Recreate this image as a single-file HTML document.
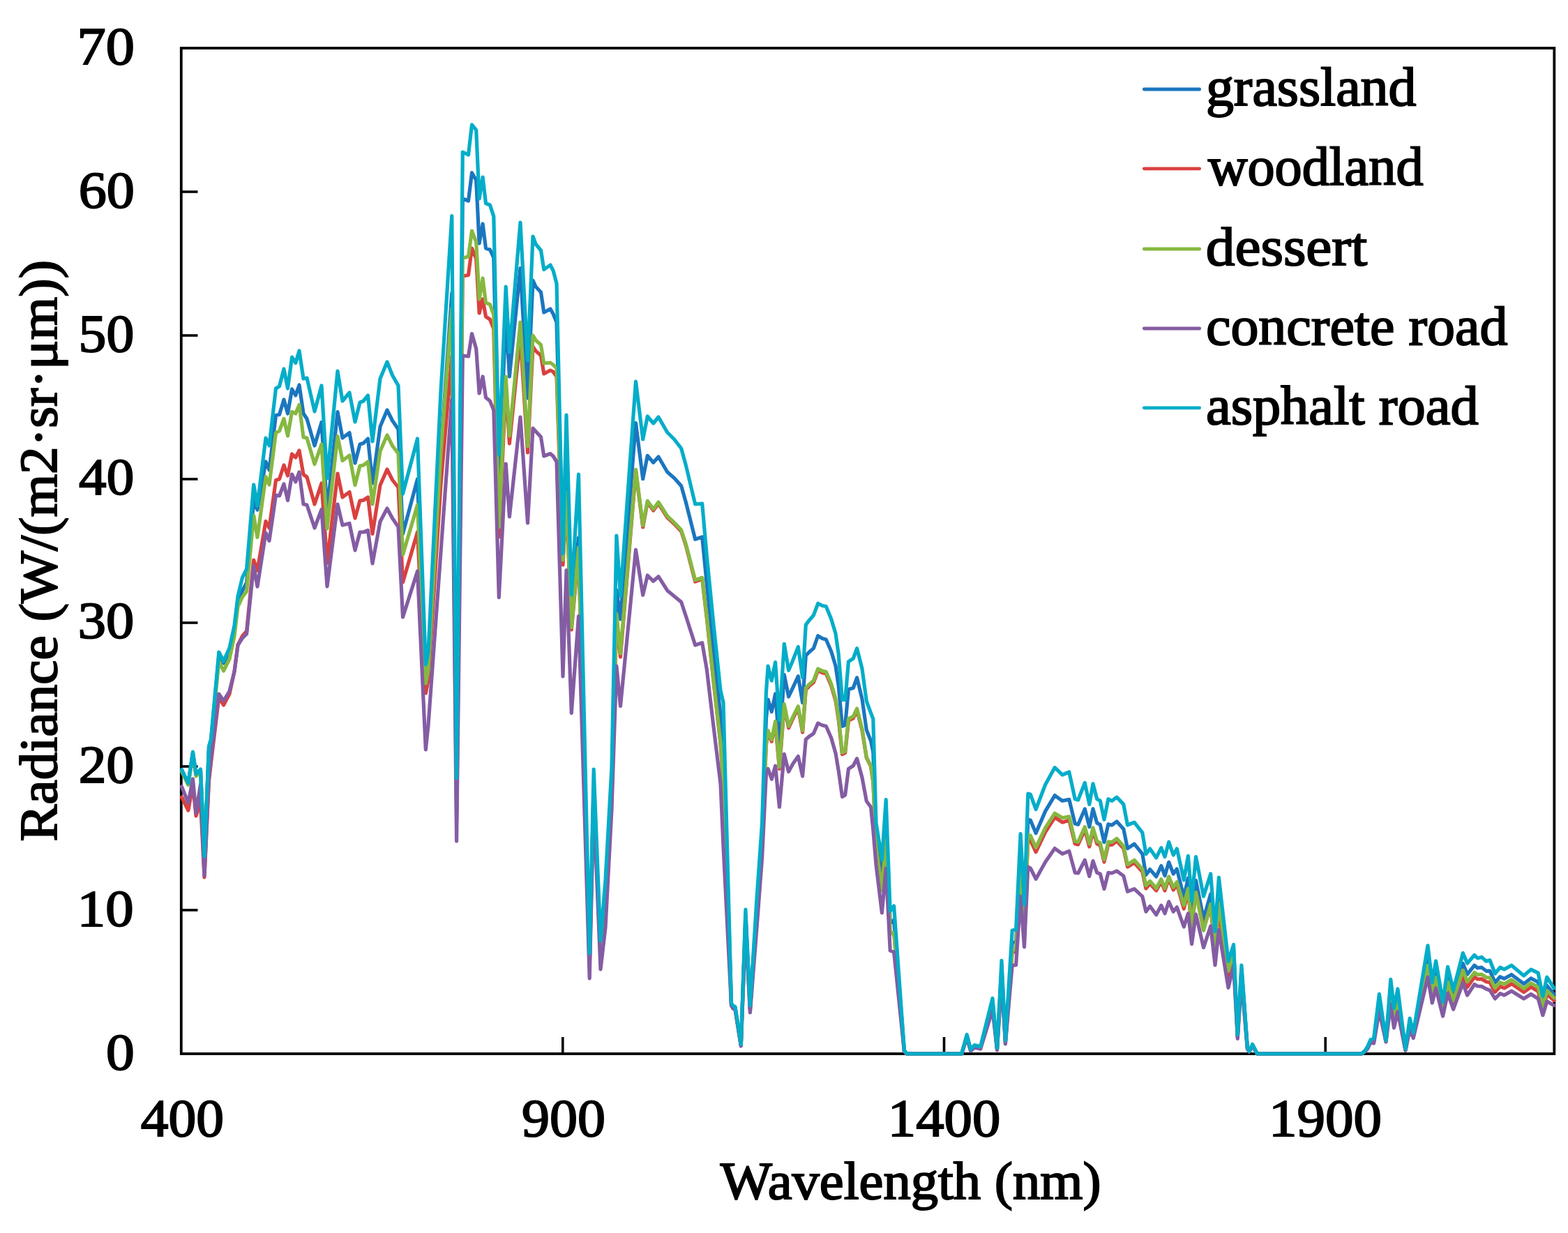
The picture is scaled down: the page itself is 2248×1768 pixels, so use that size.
<!DOCTYPE html>
<html><head><meta charset="utf-8"><title>Radiance spectra</title>
<style>html,body{margin:0;padding:0;background:#fff;overflow:hidden}svg{display:block}</style>
</head><body>
<svg width="2248" height="1768" viewBox="0 0 2248 1768"><rect x="0" y="0" width="2248" height="1768" fill="#fff"/>
<rect x="259.8" y="69.0" width="1968.5000000000002" height="1442.0" fill="none" stroke="#000" stroke-width="3.8"/>
<line x1="259.8" y1="1305.0" x2="283.5" y2="1305.0" stroke="#000" stroke-width="3.6"/>
<line x1="259.8" y1="1099.0" x2="283.5" y2="1099.0" stroke="#000" stroke-width="3.6"/>
<line x1="259.8" y1="893.0" x2="283.5" y2="893.0" stroke="#000" stroke-width="3.6"/>
<line x1="259.8" y1="687.0" x2="283.5" y2="687.0" stroke="#000" stroke-width="3.6"/>
<line x1="259.8" y1="481.0" x2="283.5" y2="481.0" stroke="#000" stroke-width="3.6"/>
<line x1="259.8" y1="275.0" x2="283.5" y2="275.0" stroke="#000" stroke-width="3.6"/>
<line x1="806.8" y1="1511.0" x2="806.8" y2="1487" stroke="#000" stroke-width="3.6"/>
<line x1="1353.5" y1="1511.0" x2="1353.5" y2="1487" stroke="#000" stroke-width="3.6"/>
<line x1="1900.2" y1="1511.0" x2="1900.2" y2="1487" stroke="#000" stroke-width="3.6"/>
<polyline points="260.5,1104.5 269.9,1124.0 276.5,1079.0 281.0,1111.0 287.5,1104.0 293.0,1230.0 299.5,1071.0 302.5,1061.0 313.8,940.0 320.5,951.0 329.0,935.0 336.0,902.4 341.0,860.0 347.5,847.0 353.6,835.6 363.7,718.0 369.0,731.0 381.0,662.0 386.0,674.0 395.5,595.5 400.5,594.5 407.0,573.0 412.5,593.0 418.6,558.0 423.8,567.0 429.0,552.0 435.0,593.0 440.0,600.5 451.0,639.0 461.0,605.5 469.0,732.4 484.0,590.5 491.0,628.0 501.0,620.5 509.0,664.0 516.0,637.0 521.0,635.5 527.5,629.0 534.0,693.0 545.0,611.8 555.0,588.0 562.5,603.0 571.0,615.5 577.5,765.5 598.5,687.0 610.3,993.6 614.0,970.8 632.0,648.5 647.8,420.0 654.6,1145.9 663.3,285.0 671.5,288.0 676.5,247.7 682.7,258.3 687.1,349.0 692.1,321.0 696.5,356.0 702.5,358.0 707.8,369.4 715.3,691.1 725.2,452.4 730.4,540.0 746.0,384.5 756.5,571.0 764.0,402.0 768.0,411.0 775.5,419.0 779.8,448.0 789.0,443.0 793.0,450.0 798.0,462.0 807.0,797.0 812.0,650.0 819.3,860.0 829.5,771.0 845.2,1382.8 851.2,1123.5 861.0,1366.6 868.0,1291.0 877.0,1125.3 883.9,846.0 889.5,888.0 911.5,606.7 921.7,686.7 928.3,653.3 936.7,663.3 944.0,655.0 956.7,676.7 966.7,685.6 976.7,696.7 983.3,720.0 996.7,773.3 1006.7,770.0 1013.3,837.2 1023.0,932.5 1033.0,1025.4 1037.0,1062.4 1048.5,1439.1 1050.8,1443.1 1054.0,1444.8 1062.3,1498.4 1068.9,1311.7 1075.4,1445.0 1085.0,1301.1 1092.6,1195.9 1098.4,1030.8 1101.1,1003.0 1106.3,1020.5 1111.6,994.9 1117.4,1069.4 1124.3,967.5 1130.6,999.0 1136.9,985.6 1144.3,969.6 1150.6,1007.6 1155.3,940.0 1160.1,935.0 1166.4,929.6 1172.7,911.7 1179.0,915.4 1184.3,917.0 1191.7,934.0 1198.0,954.9 1202.2,983.3 1207.5,1041.3 1211.7,1039.8 1216.5,988.6 1223.3,986.5 1228.6,971.7 1236.0,1002.3 1242.3,1046.7 1248.5,1062.4 1251.8,1078.2 1256.0,1197.9 1264.4,1255.7 1270.2,1176.4 1276.2,1323.7 1281.6,1319.2 1296.4,1506.4 1300.0,1511.0 1378.7,1511.0 1386.2,1484.9 1391.6,1505.7 1397.0,1499.7 1405.7,1501.8 1423.0,1437.1 1429.5,1504.0 1436.0,1386.8 1441.4,1493.7 1451.2,1351.3 1456.6,1350.7 1463.1,1226.8 1468.5,1318.5 1473.8,1175.0 1477.4,1176.2 1485.1,1194.7 1498.7,1163.1 1512.2,1140.6 1523.1,1148.3 1532.8,1146.4 1541.2,1181.1 1545.7,1182.3 1555.3,1159.9 1561.8,1185.7 1567.0,1159.9 1572.7,1180.1 1577.3,1182.4 1583.0,1207.6 1588.9,1181.8 1594.0,1183.2 1601.1,1178.0 1610.8,1188.7 1616.5,1216.6 1626.2,1210.1 1637.8,1224.3 1642.9,1254.4 1648.7,1246.6 1657.7,1257.0 1664.8,1241.5 1670.0,1255.7 1675.7,1236.3 1682.2,1253.0 1687.3,1246.0 1697.3,1286.8 1703.4,1259.1 1708.6,1316.3 1714.5,1262.6 1725.5,1317.5 1735.7,1281.9 1742.0,1352.6 1747.4,1282.7 1761.0,1388.0 1768.6,1362.3 1774.3,1485.1 1779.9,1389.5 1788.3,1501.4 1791.0,1507.6 1795.6,1498.0 1802.4,1511.0 1952.0,1511.0 1956.9,1507.0 1960.5,1501.9 1965.0,1492.0 1969.6,1491.2 1977.4,1433.0 1987.0,1492.6 1993.8,1415.6 1998.5,1454.5 2003.9,1428.5 2015.0,1505.1 2021.2,1465.3 2026.2,1483.6 2047.0,1370.8 2053.3,1418.3 2058.6,1391.1 2068.6,1443.8 2075.6,1399.3 2083.6,1429.1 2097.3,1381.5 2103.6,1397.2 2113.9,1384.2 2118.3,1388.0 2124.2,1387.2 2130.8,1392.3 2136.0,1392.1 2143.4,1408.8 2150.7,1400.6 2156.6,1403.3 2167.0,1397.5 2184.6,1410.7 2194.9,1402.7 2205.2,1408.2 2211.9,1438.1 2217.8,1413.4 2228.0,1425.8" fill="none" stroke="#1b76bf" stroke-width="5.2" stroke-linejoin="round" stroke-linecap="round"/>
<polyline points="260.5,1143.0 269.9,1162.0 276.5,1125.0 281.0,1170.0 287.5,1150.0 293.0,1258.0 299.5,1120.0 302.5,1094.0 313.8,1000.0 320.5,1011.0 329.0,995.0 336.0,963.0 341.0,925.0 347.5,912.0 353.6,905.0 363.7,803.0 369.0,818.0 381.0,747.5 386.0,757.0 395.5,688.5 400.5,687.0 407.0,667.0 412.5,682.0 418.6,651.0 423.8,656.0 429.0,646.0 435.0,680.5 440.0,684.0 451.0,723.0 461.0,693.0 469.0,807.2 484.0,679.0 491.0,713.0 501.0,705.5 509.0,743.0 516.0,718.0 521.0,717.2 527.5,713.0 534.0,765.5 545.0,695.7 555.0,673.0 562.5,688.0 571.0,699.0 577.5,835.0 598.5,763.0 610.3,994.0 614.0,974.7 632.0,694.6 647.8,510.0 654.6,1178.4 663.3,396.0 671.5,394.5 676.5,356.0 682.7,371.1 687.1,449.0 692.1,429.0 696.5,454.0 702.5,458.0 707.8,471.6 715.3,770.0 725.2,553.9 730.4,636.0 746.0,482.0 756.5,649.0 764.0,497.0 768.0,503.1 775.5,509.7 779.8,536.0 789.0,531.0 793.0,533.0 798.0,540.0 807.0,810.0 812.0,717.0 819.3,903.0 829.5,790.0 845.2,1387.6 851.2,1130.5 861.0,1373.8 868.0,1304.1 877.0,1138.3 883.9,890.0 889.5,942.0 911.5,675.0 921.7,756.0 928.3,720.0 936.7,732.0 944.0,722.0 956.7,742.0 966.7,751.3 976.7,762.0 983.3,782.0 996.7,834.0 1006.7,830.0 1013.3,886.3 1023.0,977.1 1033.0,1066.3 1037.0,1125.8 1048.5,1440.3 1050.8,1444.4 1054.0,1446.2 1062.3,1499.1 1068.9,1319.8 1075.4,1448.2 1085.0,1314.3 1092.6,1211.8 1098.4,1068.1 1101.1,1050.0 1106.3,1063.2 1111.6,1037.2 1117.4,1102.5 1124.3,1012.2 1130.6,1043.8 1136.9,1030.2 1144.3,1015.3 1150.6,1050.1 1155.3,989.0 1160.1,983.9 1166.4,978.5 1172.7,961.5 1179.0,964.6 1184.3,965.8 1191.7,983.2 1198.0,1004.9 1202.2,1031.9 1207.5,1081.7 1211.7,1079.5 1216.5,1033.2 1223.3,1029.9 1228.6,1018.5 1236.0,1047.0 1242.3,1086.6 1248.5,1098.9 1251.8,1121.3 1256.0,1214.2 1264.4,1276.4 1270.2,1203.1 1276.2,1339.0 1281.6,1337.1 1296.4,1507.0 1300.0,1511.0 1378.7,1511.0 1386.2,1486.2 1391.6,1506.2 1397.0,1500.7 1405.7,1502.7 1423.0,1441.6 1429.5,1504.8 1436.0,1394.4 1441.4,1495.1 1451.2,1365.1 1456.6,1364.7 1463.1,1251.5 1468.5,1335.2 1473.8,1204.0 1477.4,1205.2 1485.1,1221.7 1498.7,1193.2 1512.2,1172.0 1523.1,1179.2 1532.8,1176.0 1541.2,1210.0 1545.7,1210.9 1555.3,1190.0 1561.8,1214.0 1567.0,1191.0 1572.7,1210.0 1577.3,1212.1 1583.0,1236.0 1588.9,1211.0 1594.0,1211.4 1601.1,1206.0 1610.8,1216.6 1616.5,1243.0 1626.2,1237.0 1637.8,1250.0 1642.9,1274.0 1648.7,1267.0 1657.7,1277.0 1664.8,1264.0 1670.0,1277.0 1675.7,1260.0 1682.2,1276.0 1687.3,1268.0 1697.3,1303.0 1703.4,1278.0 1708.6,1329.8 1714.5,1279.5 1725.5,1330.9 1735.7,1299.7 1742.0,1365.9 1747.4,1305.5 1761.0,1402.4 1768.6,1373.9 1774.3,1487.3 1779.9,1397.4 1788.3,1502.7 1791.0,1507.8 1795.6,1499.0 1802.4,1511.0 1952.0,1511.0 1956.9,1507.5 1960.5,1503.1 1965.0,1493.7 1969.6,1493.9 1977.4,1442.5 1987.0,1493.4 1993.8,1429.7 1998.5,1465.7 2003.9,1441.4 2015.0,1505.9 2021.2,1471.6 2026.2,1486.5 2047.0,1388.9 2053.3,1430.1 2058.6,1406.6 2068.6,1451.7 2075.6,1414.4 2083.6,1440.1 2097.3,1398.7 2103.6,1415.5 2113.9,1401.1 2118.3,1404.0 2124.2,1403.7 2130.8,1407.8 2136.0,1408.7 2143.4,1422.4 2150.7,1414.5 2156.6,1416.9 2167.0,1410.7 2184.6,1422.5 2194.9,1415.3 2205.2,1421.4 2211.9,1447.8 2217.8,1425.8 2228.0,1434.6" fill="none" stroke="#d9413f" stroke-width="5.2" stroke-linejoin="round" stroke-linecap="round"/>
<polyline points="260.5,1106.0 269.9,1125.5 276.5,1081.0 281.0,1113.0 287.5,1106.0 293.0,1234.0 299.5,1074.0 302.5,1064.0 313.8,948.0 320.5,962.0 329.0,945.0 336.0,912.3 341.0,870.0 347.5,856.0 353.6,847.9 363.7,739.0 369.0,770.5 381.0,683.6 386.0,695.0 395.5,620.5 400.5,618.0 407.0,600.5 412.5,625.0 418.6,590.5 423.8,593.0 429.0,580.5 435.0,627.0 440.0,628.0 451.0,665.5 461.0,637.0 469.0,758.0 484.0,625.5 491.0,660.5 501.0,653.0 509.0,695.5 516.0,668.0 521.0,667.1 527.5,662.0 534.0,723.0 545.0,646.9 555.0,624.0 562.5,639.0 571.0,650.5 577.5,795.5 598.5,724.0 610.3,980.0 614.0,961.2 632.0,648.9 647.8,442.0 654.6,1161.7 663.3,370.0 671.5,368.0 676.5,331.0 682.7,347.1 687.1,429.0 692.1,399.0 696.5,434.0 702.5,436.6 707.8,451.4 715.3,756.0 725.2,540.1 730.4,625.0 746.0,462.0 756.5,640.0 764.0,481.0 768.0,487.7 775.5,494.5 779.8,521.0 789.0,520.0 793.0,523.0 798.0,528.0 807.0,803.0 812.0,706.0 819.3,900.0 829.5,785.0 845.2,1386.4 851.2,1128.8 861.0,1372.1 868.0,1301.1 877.0,1135.3 883.9,880.0 889.5,937.0 911.5,673.3 921.7,753.3 928.3,718.3 936.7,730.0 944.0,720.0 956.7,740.0 966.7,749.3 976.7,760.0 983.3,780.0 996.7,831.7 1006.7,828.3 1013.3,884.9 1023.0,975.7 1033.0,1064.9 1037.0,1123.6 1048.5,1440.3 1050.8,1444.3 1054.0,1446.2 1062.3,1499.1 1068.9,1319.5 1075.4,1448.0 1085.0,1313.7 1092.6,1211.0 1098.4,1066.2 1101.1,1047.6 1106.3,1060.7 1111.6,1034.5 1117.4,1100.0 1124.3,1009.7 1130.6,1041.3 1136.9,1027.7 1144.3,1012.8 1150.6,1047.6 1155.3,986.5 1160.1,981.4 1166.4,976.0 1172.7,959.0 1179.0,962.1 1184.3,963.3 1191.7,980.5 1198.0,1002.0 1202.2,1029.0 1207.5,1079.2 1211.7,1077.1 1216.5,1030.7 1223.3,1027.4 1228.6,1016.0 1236.0,1045.3 1242.3,1085.7 1248.5,1098.5 1251.8,1121.2 1256.0,1214.3 1264.4,1277.0 1270.2,1203.7 1276.2,1339.2 1281.6,1337.2 1296.4,1507.0 1300.0,1511.0 1378.7,1511.0 1386.2,1486.0 1391.6,1506.1 1397.0,1500.5 1405.7,1502.6 1423.0,1440.8 1429.5,1504.7 1436.0,1393.0 1441.4,1494.8 1451.2,1362.2 1456.6,1361.6 1463.1,1245.9 1468.5,1331.3 1473.8,1197.0 1477.4,1198.2 1485.1,1215.3 1498.7,1186.9 1512.2,1166.3 1523.1,1172.8 1532.8,1170.8 1541.2,1206.3 1545.7,1207.1 1555.3,1185.7 1561.8,1210.1 1567.0,1187.0 1572.7,1206.3 1577.3,1208.5 1583.0,1232.7 1588.9,1207.0 1594.0,1207.6 1601.1,1202.4 1610.8,1213.2 1616.5,1239.8 1626.2,1233.3 1637.8,1246.2 1642.9,1269.8 1648.7,1263.4 1657.7,1273.7 1664.8,1260.8 1670.0,1273.7 1675.7,1257.0 1682.2,1272.4 1687.3,1264.7 1697.3,1298.2 1703.4,1274.1 1708.6,1328.3 1714.5,1279.5 1725.5,1334.3 1735.7,1296.6 1742.0,1361.2 1747.4,1294.6 1761.0,1392.4 1768.6,1366.0 1774.3,1485.8 1779.9,1392.2 1788.3,1501.9 1791.0,1507.7 1795.6,1498.4 1802.4,1511.0 1952.0,1511.0 1956.9,1507.3 1960.5,1502.7 1965.0,1493.1 1969.6,1492.9 1977.4,1439.1 1987.0,1493.1 1993.8,1425.0 1998.5,1462.1 2003.9,1437.3 2015.0,1505.7 2021.2,1469.8 2026.2,1485.7 2047.0,1384.3 2053.3,1426.7 2058.6,1401.6 2068.6,1448.7 2075.6,1408.0 2083.6,1434.9 2097.3,1391.2 2103.6,1407.8 2113.9,1394.5 2118.3,1397.7 2124.2,1397.1 2130.8,1401.5 2136.0,1401.9 2143.4,1416.7 2150.7,1408.6 2156.6,1411.0 2167.0,1404.8 2184.6,1417.3 2194.9,1409.7 2205.2,1415.6 2211.9,1443.5 2217.8,1420.3 2228.0,1430.7" fill="none" stroke="#86b841" stroke-width="5.2" stroke-linejoin="round" stroke-linecap="round"/>
<polyline points="260.5,1128.0 269.9,1151.0 276.5,1117.0 281.0,1166.0 287.5,1125.0 293.0,1256.0 299.5,1115.0 302.5,1089.0 313.8,995.0 320.5,1005.0 329.0,991.0 336.0,963.0 341.0,925.0 347.5,915.0 353.6,909.0 363.7,811.5 369.0,841.0 381.0,764.0 386.0,775.4 395.5,710.0 400.5,711.0 407.0,694.0 412.5,717.5 418.6,680.0 423.8,691.0 429.0,677.0 435.0,723.0 440.0,724.0 451.0,757.0 461.0,730.5 469.0,841.0 484.0,723.0 491.0,753.0 501.0,750.5 509.0,789.0 516.0,763.0 521.0,763.0 527.5,760.5 534.0,808.0 545.0,748.0 555.0,729.0 562.5,743.0 571.0,755.5 577.5,885.0 598.5,819.0 610.3,1075.0 614.0,1040.0 632.0,791.3 647.8,573.0 654.6,1206.0 663.3,510.0 671.5,511.0 676.5,478.5 682.7,500.0 687.1,564.0 692.1,540.0 696.5,570.0 702.5,575.0 707.8,588.0 715.3,856.6 725.2,665.0 730.4,741.0 746.0,598.0 756.5,750.0 764.0,614.0 768.0,618.4 775.5,626.6 779.8,654.0 789.0,650.5 793.0,654.0 798.0,662.0 807.0,970.0 812.0,817.6 819.3,1022.5 829.5,883.5 845.2,1403.0 851.2,1150.0 861.0,1390.0 868.0,1330.0 877.0,1160.0 883.9,955.0 889.5,1012.4 911.5,788.3 921.7,853.3 928.3,825.0 936.7,833.3 944.0,826.7 956.7,846.7 966.7,855.0 976.7,863.3 983.3,883.3 996.7,925.0 1006.7,921.7 1013.3,960.0 1023.0,1042.0 1033.0,1124.0 1037.0,1214.0 1048.5,1442.0 1050.8,1446.0 1054.0,1448.0 1062.3,1500.0 1068.9,1330.0 1075.4,1452.0 1085.0,1330.0 1092.6,1230.0 1098.4,1110.0 1101.1,1102.4 1106.3,1117.2 1111.6,1098.2 1117.4,1157.2 1124.3,1081.3 1130.6,1106.6 1136.9,1095.0 1144.3,1084.5 1150.6,1113.0 1155.3,1060.3 1160.1,1056.0 1166.4,1051.8 1172.7,1037.0 1179.0,1040.0 1184.3,1041.3 1191.7,1058.0 1198.0,1080.0 1202.2,1105.0 1207.5,1142.5 1211.7,1140.0 1216.5,1102.4 1223.3,1098.0 1228.6,1087.7 1236.0,1115.0 1242.3,1148.8 1248.5,1157.2 1251.8,1190.0 1256.0,1240.0 1264.4,1309.0 1270.2,1245.0 1276.2,1363.0 1281.6,1365.0 1296.4,1508.0 1300.0,1511.0 1378.7,1511.0 1386.2,1488.0 1391.6,1507.0 1397.0,1502.0 1405.7,1504.0 1423.0,1448.0 1429.5,1506.0 1436.0,1405.0 1441.4,1497.0 1451.2,1384.0 1456.6,1383.8 1463.1,1285.0 1468.5,1357.8 1473.8,1243.0 1477.4,1245.0 1485.1,1260.4 1498.7,1236.0 1512.2,1216.6 1523.1,1224.3 1532.8,1220.4 1541.2,1251.4 1545.7,1252.0 1555.3,1233.3 1561.8,1256.5 1567.0,1234.6 1572.7,1251.4 1577.3,1253.0 1583.0,1274.6 1588.9,1251.4 1594.0,1252.0 1601.1,1248.8 1610.8,1256.0 1616.5,1278.4 1626.2,1274.6 1637.8,1285.3 1642.9,1307.2 1648.7,1299.5 1657.7,1311.7 1664.8,1298.2 1670.0,1309.8 1675.7,1293.0 1682.2,1307.2 1687.3,1300.8 1697.3,1329.0 1703.4,1309.8 1708.6,1353.6 1714.5,1311.0 1725.5,1358.7 1735.7,1327.8 1742.0,1384.0 1747.4,1333.4 1761.0,1416.3 1768.6,1385.0 1774.3,1489.3 1779.9,1405.0 1788.3,1504.0 1791.0,1508.0 1795.6,1500.0 1802.4,1511.0 1952.0,1511.0 1956.9,1508.0 1960.5,1504.0 1965.0,1495.0 1969.6,1496.0 1977.4,1449.6 1987.0,1494.0 1993.8,1440.0 1998.5,1473.9 2003.9,1450.7 2015.0,1506.5 2021.2,1476.0 2026.2,1488.6 2047.0,1401.1 2053.3,1438.0 2058.6,1417.0 2068.6,1457.0 2075.6,1424.3 2083.6,1447.2 2097.3,1409.6 2103.6,1427.0 2113.9,1411.5 2118.3,1414.0 2124.2,1414.4 2130.8,1418.0 2136.0,1420.0 2143.4,1432.0 2150.7,1424.7 2156.6,1427.0 2167.0,1421.0 2184.6,1432.0 2194.9,1425.5 2205.2,1432.0 2211.9,1455.7 2217.8,1435.8 2228.0,1441.7" fill="none" stroke="#845ca3" stroke-width="5.2" stroke-linejoin="round" stroke-linecap="round"/>
<polyline points="260.5,1103.5 269.9,1123.0 276.5,1078.0 281.0,1110.0 287.5,1103.0 293.0,1228.0 299.5,1070.0 302.5,1060.0 313.8,935.0 320.5,948.0 329.0,929.0 336.0,897.0 341.0,855.0 347.5,828.0 353.6,816.0 363.7,695.0 369.0,725.0 381.0,628.0 386.0,639.0 395.5,557.0 400.5,554.0 407.0,529.0 412.5,557.0 418.6,512.0 423.8,520.5 429.0,503.0 435.0,543.0 440.0,542.0 451.0,590.0 461.0,553.0 469.0,686.0 484.0,532.0 491.0,575.0 501.0,563.0 509.0,605.0 516.0,577.0 521.0,575.0 527.5,567.0 534.0,633.0 545.0,543.0 555.0,519.0 562.5,538.0 571.0,553.0 577.5,708.0 598.5,629.0 610.3,953.0 614.0,935.0 632.0,560.0 647.8,309.5 654.6,1115.5 663.3,218.0 671.5,222.0 676.5,178.8 682.7,186.3 687.1,285.0 692.1,254.0 696.5,291.6 702.5,294.0 707.8,310.4 715.3,652.0 725.2,411.0 730.4,505.0 746.0,319.0 756.5,517.0 764.0,339.0 768.0,350.0 775.5,359.0 779.8,386.5 789.0,380.0 793.0,387.7 798.0,406.5 807.0,794.0 812.0,595.0 819.3,852.7 829.5,680.0 845.2,1367.0 851.2,1103.0 861.0,1349.0 868.0,1262.0 877.0,1100.0 883.9,768.0 889.5,855.0 911.5,547.0 921.7,630.0 928.3,597.0 936.7,607.0 944.0,598.0 956.7,620.0 966.7,630.0 976.7,643.0 983.3,667.0 996.7,723.0 1006.7,722.0 1013.3,797.0 1023.0,895.0 1033.0,990.0 1037.0,1007.0 1048.5,1438.0 1050.8,1442.0 1054.0,1443.6 1062.3,1497.7 1068.9,1304.0 1075.4,1442.0 1085.0,1288.0 1092.6,1180.0 1098.4,993.0 1101.1,955.0 1106.3,976.0 1111.6,949.6 1117.4,1033.0 1124.3,923.3 1130.6,961.2 1136.9,946.4 1144.3,927.5 1150.6,971.7 1155.3,895.9 1160.1,889.5 1166.4,882.2 1172.7,865.3 1179.0,868.5 1184.3,869.5 1191.7,887.4 1198.0,908.5 1202.2,938.0 1207.5,1003.4 1211.7,1003.4 1216.5,948.6 1223.3,944.3 1228.6,929.6 1236.0,959.0 1242.3,1005.5 1248.5,1022.3 1251.8,1030.7 1256.0,1180.0 1264.4,1232.8 1270.2,1146.7 1276.2,1306.5 1281.6,1299.0 1296.4,1505.7 1300.0,1511.0 1378.7,1511.0 1386.2,1483.4 1391.6,1505.0 1397.0,1498.6 1405.7,1500.7 1423.0,1431.5 1429.5,1502.9 1436.0,1377.3 1441.4,1492.0 1451.2,1334.0 1456.6,1333.0 1463.1,1195.5 1468.5,1297.2 1473.8,1138.0 1477.4,1139.3 1485.1,1160.5 1498.7,1125.0 1512.2,1100.6 1523.1,1111.0 1532.8,1107.0 1541.2,1145.7 1545.7,1147.0 1555.3,1122.5 1561.8,1153.4 1567.0,1123.8 1572.7,1145.7 1577.3,1148.3 1583.0,1175.3 1588.9,1145.7 1594.0,1148.3 1601.1,1143.1 1610.8,1153.4 1616.5,1183.0 1626.2,1179.2 1637.8,1193.8 1642.9,1224.7 1648.7,1217.0 1657.7,1229.9 1664.8,1215.7 1670.0,1228.6 1675.7,1207.3 1682.2,1226.0 1687.3,1217.0 1697.3,1262.0 1703.4,1227.3 1708.6,1291.7 1714.5,1228.6 1725.5,1285.3 1735.7,1253.0 1742.0,1335.5 1747.4,1258.2 1761.0,1378.3 1768.6,1354.5 1774.3,1483.7 1779.9,1384.0 1788.3,1500.5 1791.0,1507.5 1795.6,1497.3 1802.4,1511.0 1952.0,1511.0 1956.9,1506.5 1960.5,1501.0 1965.0,1490.7 1969.6,1489.0 1977.4,1425.4 1987.0,1492.0 1993.8,1404.3 1998.5,1445.4 2003.9,1418.0 2015.0,1504.4 2021.2,1460.2 2026.2,1481.2 2047.0,1355.8 2053.3,1408.5 2058.6,1378.0 2068.6,1437.0 2075.6,1386.4 2083.6,1419.7 2097.3,1366.6 2103.6,1381.3 2113.9,1369.5 2118.3,1374.0 2124.2,1372.4 2130.8,1378.3 2136.0,1376.8 2143.4,1396.0 2150.7,1387.1 2156.6,1390.0 2167.0,1384.2 2184.6,1399.0 2194.9,1390.1 2205.2,1395.2 2211.9,1428.4 2217.8,1401.1 2228.0,1417.0" fill="none" stroke="#03adc8" stroke-width="5.2" stroke-linejoin="round" stroke-linecap="round"/>
<g font-family="\"Liberation Serif\", serif" font-size="78" fill="#000" stroke="#000" stroke-width="2.0">
<text transform="matrix(1.0569,0,0,0.9636,110.47,92.07)">70</text>
<text transform="matrix(1.0284,0,0,0.9582,112.64,298.08)">60</text>
<text transform="matrix(1.0219,0,0,0.9836,112.53,503.63)">50</text>
<text transform="matrix(1.0145,0,0,0.9527,113.10,709.39)">40</text>
<text transform="matrix(1.0329,0,0,0.9527,111.70,915.29)">30</text>
<text transform="matrix(1.0189,0,0,0.9691,112.76,1121.86)">20</text>
<text transform="matrix(1.0357,0,0,0.9509,110.79,1327.90)">10</text>
<text transform="matrix(1.0457,0,0,0.9545,151.91,1534.09)">0</text>
<text transform="matrix(1.0191,0,0,0.9727,201.80,1629.05)">400</text>
<text transform="matrix(1.0263,0,0,0.9727,747.97,1629.05)">900</text>
<text transform="matrix(1.0358,0,0,0.9655,1272.79,1628.67)">1400</text>
<text transform="matrix(1.0392,0,0,0.9655,1819.06,1628.67)">1900</text>
<text transform="matrix(1.0078,0,0,0.9700,1032.81,1718.80)">Wavelength (nm)</text>
<text transform="translate(81.1,1206.42) rotate(-90) scale(1.0176,0.970)">Radiance (W/(m2·sr·μm))</text>
<text transform="matrix(1.0235,0,0,1.0000,1728.95,151.30)">grassland</text>
<text transform="matrix(1.0032,0,0,1.0000,1732.00,265.10)">woodland</text>
<text transform="matrix(1.0684,0,0,1.0000,1728.86,380.30)">dessert</text>
<text transform="matrix(1.0245,0,0,1.0000,1728.95,494.30)">concrete road</text>
<text transform="matrix(1.0310,0,0,1.0000,1728.94,608.10)">asphalt road</text>
</g>
<line x1="1640.3" y1="128.0" x2="1719.7" y2="128.0" stroke="#1b76bf" stroke-width="4.8" stroke-linecap="round"/>
<line x1="1640.3" y1="241.8" x2="1719.7" y2="241.8" stroke="#d9413f" stroke-width="4.8" stroke-linecap="round"/>
<line x1="1640.3" y1="357.0" x2="1719.7" y2="357.0" stroke="#86b841" stroke-width="4.8" stroke-linecap="round"/>
<line x1="1640.3" y1="471.0" x2="1719.7" y2="471.0" stroke="#845ca3" stroke-width="4.8" stroke-linecap="round"/>
<line x1="1640.3" y1="584.8" x2="1719.7" y2="584.8" stroke="#03adc8" stroke-width="4.8" stroke-linecap="round"/></svg>
</body></html>
